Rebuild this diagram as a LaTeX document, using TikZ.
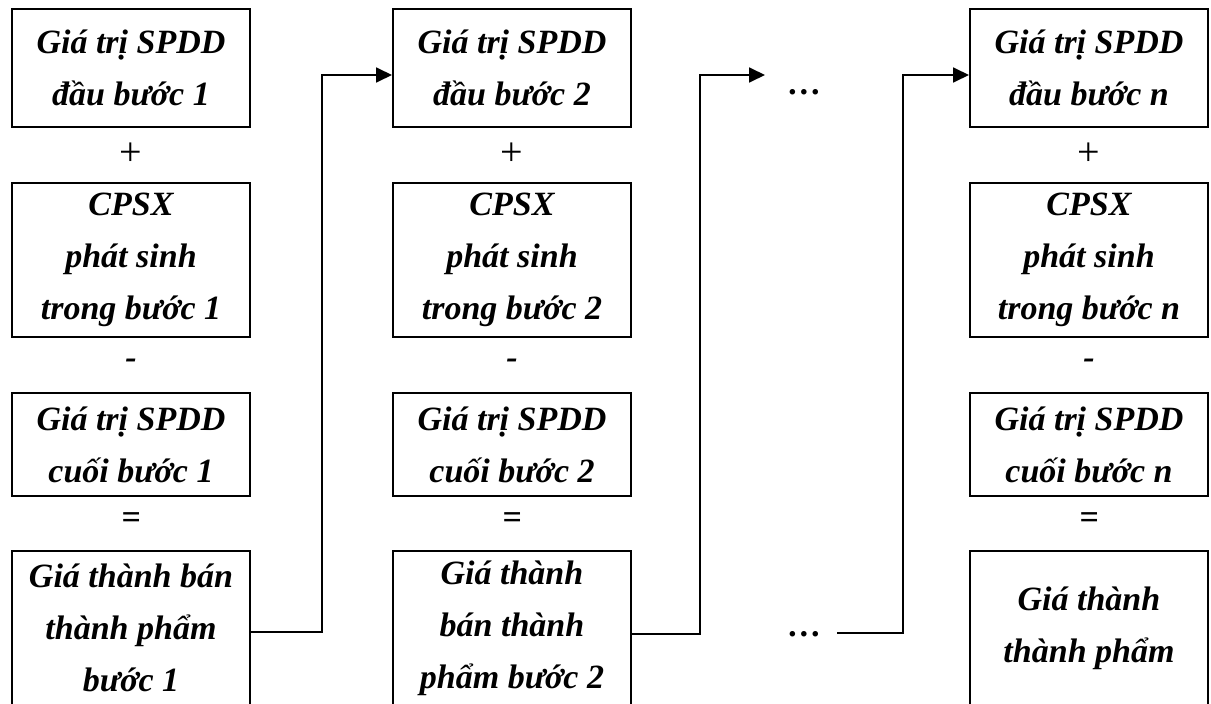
\documentclass[tikz,border=0pt]{standalone}
\usepackage{fontspec}
\setmainfont{Liberation Serif}
\usetikzlibrary{arrows.meta}

\tikzstyle{block}=[rectangle,draw,line width=2pt,minimum width=238pt,
inner sep=0pt,align=center,font=\fontsize{34}{52}\selectfont\bfseries\itshape]
\tikzstyle{op}=[inner sep=0pt,font=\fontsize{34}{52}\selectfont\bfseries\itshape]
\tikzstyle{plus}=[inner sep=0pt,font=\fontsize{40}{52}\selectfont]
\tikzstyle{line} = [draw, line width=1.8pt, -{Triangle[length=16pt,width=15pt]}]

\begin{document}
\begin{tikzpicture}[x=1pt,y=-1pt]
\useasboundingbox (0,0) rectangle (1211,704);
% column 1
\node [block,minimum height=118pt] (r1c1) at (131,68) {Giá trị SPDD\\đầu bước 1};
\node [plus] (plus1) at (131,154) {+};
\node [block,minimum height=154pt] (r2c1) at (131,260) {CPSX\\phát sinh\\trong bước 1};
\node [op] (minus1) at (131,364) {-};
\node [block,minimum height=103pt] (r3c1) at (131,444.5) {Giá trị SPDD\\cuối bước 1};
\node [op] (eq1) at (131,521) {=};
\node [block,minimum height=154pt] (r4c1) at (131,628) {Giá thành bán\\thành phẩm\\bước 1};
% column 2
\node [block,minimum height=118pt] (r1c2) at (512,68) {Giá trị SPDD\\đầu bước 2};
\node [plus] (plus2) at (512,154) {+};
\node [block,minimum height=154pt] (r2c2) at (512,260) {CPSX\\phát sinh\\trong bước 2};
\node [op] (minus2) at (512,364) {-};
\node [block,minimum height=103pt] (r3c2) at (512,444.5) {Giá trị SPDD\\cuối bước 2};
\node [op] (eq2) at (512,521) {=};
\node [block,minimum height=154pt] (r4c2) at (512,628) {Giá thành\\bán thành\\phẩm bước 2};
% column n
\node [block,minimum height=118pt] (r1c3) at (1089,68) {Giá trị SPDD\\đầu bước n};
\node [plus] (plus3) at (1089,154) {+};
\node [block,minimum height=154pt] (r2c3) at (1089,260) {CPSX\\phát sinh\\trong bước n};
\node [op] (minus3) at (1089,364) {-};
\node [block,minimum height=103pt] (r3c3) at (1089,444.5) {Giá trị SPDD\\cuối bước n};
\node [op] (eq3) at (1089,521) {=};
\node [block,minimum height=154pt] (r4c3) at (1089,628) {Giá thành\\thành phẩm};
% dots between steps
\node [op,anchor=base] (dotsA) at (805,94) {\ldots};
\node [op,anchor=base] (dotsB) at (805,636) {\ldots};
\coordinate (gapL) at (765,75);
\coordinate (gapR) at (837,633);
% connectors
\path [line] ([yshift=-4pt]r4c1.east) -- ++(71,0) |- ([yshift=-7pt]r1c2.west);
\path [line] ([yshift=-6pt]r4c2.east) -- ++(68,0) |- (gapL);
\path [line] (gapR) -- ++(66,0) |- ([yshift=-7pt]r1c3.west);
\end{tikzpicture}
\end{document}
